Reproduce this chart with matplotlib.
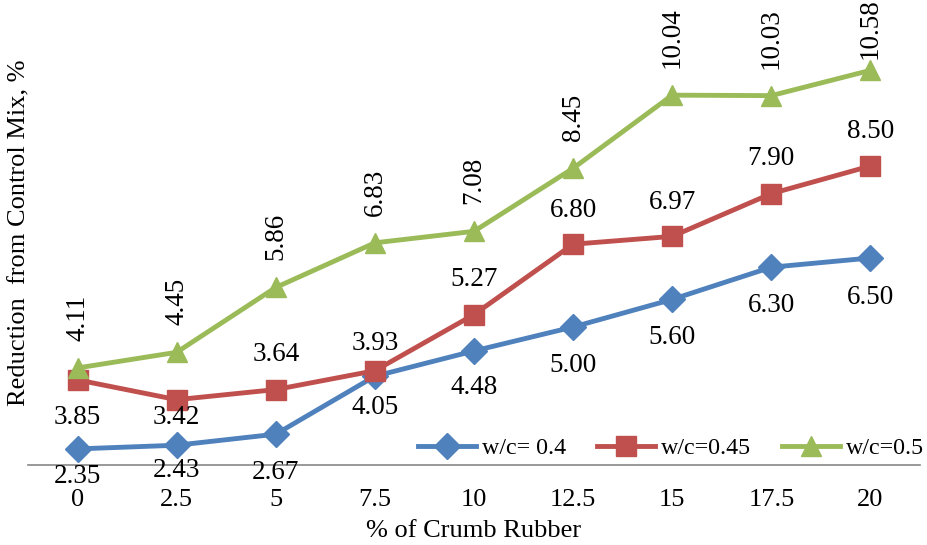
import matplotlib.pyplot as plt

plt.rcParams['font.family'] = ['Liberation Serif', 'DejaVu Serif']

# % crumb rubber categories and reduction values per w/c ratio
crumb = ['0', '2.5', '5', '7.5', '10', '12.5', '15', '17.5', '20']
wc_040 = [2.35, 2.43, 2.67, 3.93, 4.48, 5.00, 5.60, 6.30, 6.50]
wc_045 = [3.85, 3.42, 3.64, 4.05, 5.27, 6.80, 6.97, 7.90, 8.50]
wc_050 = [4.11, 4.45, 5.86, 6.83, 7.08, 8.45, 10.04, 10.03, 10.58]

# label shifts in pixels (positive = below the marker)
blue_dy = [28, 25, 38, -33, 37, 38, 38, 38, 39]
red_dy = [38, 18, -35, 37, -35, -34, -34, -35, -34]
# gap between marker and the bottom of the rotated green labels
green_gap = [27, 27, 27, 27, 27, 27, 27, 27, 11]

fig = plt.figure(figsize=(9.28, 5.45), dpi=100)
ax = fig.add_axes([28/928, 80/545, 892/928, 460/545])

x = range(len(crumb))
ax.plot(x, wc_040, color='#4F81BD', lw=3.5, marker='D', ms=13, label='w/c= 0.4')
ax.plot(x, wc_045, color='#C0504D', lw=3.5, marker='s', ms=14, label='w/c=0.45')
ax.plot(x, wc_050, color='#9BBB59', lw=3.5, marker='^', ms=14, label='w/c=0.5')

fs = 19.5
for i in x:
    ax.annotate(f'{wc_040[i]:.2f}', (i, wc_040[i]), xytext=(0, -blue_dy[i]),
                textcoords='offset pixels', ha='center', va='center', fontsize=fs)
    ax.annotate(f'{wc_045[i]:.2f}', (i, wc_045[i]), xytext=(0, -red_dy[i]),
                textcoords='offset pixels', ha='center', va='center', fontsize=fs)
    ax.annotate(f'{wc_050[i]:.2f}', (i, wc_050[i]), xytext=(0, green_gap[i]),
                textcoords='offset pixels', ha='center', va='bottom',
                rotation=90, fontsize=fs)

ax.set_xlim(-0.5, 8.5)
ax.set_ylim(2, 12)
ax.set_xticks(list(x))
ax.set_xticklabels(crumb, fontsize=19)
ax.set_yticks([])
ax.tick_params(axis='x', length=0, pad=17)
for side in ['top', 'right', 'left']:
    ax.spines[side].set_visible(False)
ax.spines['bottom'].set_color('#888888')
ax.spines['bottom'].set_linewidth(1.2)

ax.set_xlabel('% of Crumb Rubber', fontsize=19, labelpad=7)
fig.text(19/928, 1 - 233/545, 'Reduction  from Control Mix, %', rotation=90,
         ha='center', va='center', fontsize=19)

ax.legend(loc='center left', bbox_to_anchor=(418/928, 1 - 448/545),
          bbox_transform=fig.transFigure, ncol=3, frameon=False, fontsize=17.3,
          handlelength=2.43, handletextpad=0.22, columnspacing=1.3,
          borderpad=0, borderaxespad=0)

fig.savefig('out.png', dpi=100)
